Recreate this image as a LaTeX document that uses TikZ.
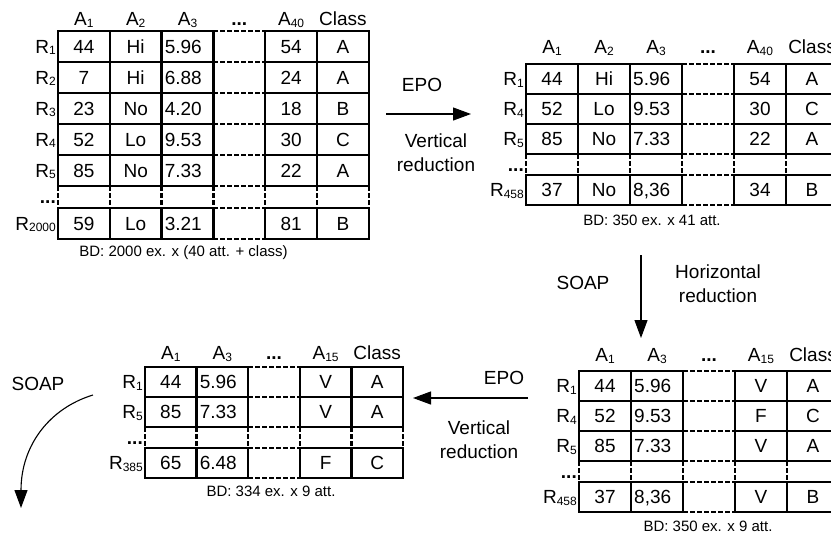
\documentclass[tikz,border=0pt]{standalone}
\usepackage{fontspec}
\setmainfont{Liberation Sans}
\usepackage{tikz}
\usetikzlibrary{arrows.meta, positioning}

\newcommand{\lowidx}[1]{\raisebox{-1.5pt}{\fontsize{12}{12}\selectfont #1}}
\newcommand{\Rlab}[1]{R\lowidx{#1}}
\newcommand{\Alab}[1]{A\lowidx{#1}}
\newcommand{\dotcell}{\textbf{...}}

\tikzset{
  tabline/.style={line width=2.3pt},
  tabdash/.style={line width=2.3pt, dash pattern=on 4.5pt off 2.5pt},
  txt/.style={inner sep=0pt, font=\fontsize{19}{22}\selectfont, text height=13.6pt, text depth=0pt},
  cell/.style={txt},
  lcell/.style={txt, anchor=west},
  rlab/.style={txt, anchor=east},
  capt/.style={inner sep=0pt, font=\fontsize{15}{18}\selectfont},
  note/.style={inner sep=0pt, font=\fontsize{19}{24}\selectfont, align=center},
  flow/.style={line width=1.1pt, -{Triangle[length=18pt,width=13pt]}},
}

\begin{document}
\begin{tikzpicture}[x=1pt, y=-1pt]
  \useasboundingbox (0,0) rectangle (831,542);
  \clip (0,0) rectangle (831,542);

  % Original database (top left)
  \begin{scope}[shift={(58,31)}]
    \foreach \yy in {0,31,62,93,124,177}
      \foreach \c in {0,1,2,4,5}
        \draw[tabline] (\c*51.8,\yy) rectangle ++(51.8,31);
    \foreach \yy in {0,31,62,93,124,155,177,208}
      \draw[tabdash] (3*51.8,\yy) -- ++(51.8,0);
    \foreach \c in {0,...,6}
      \draw[tabdash] (\c*51.8,155) -- ++(0,22);
    \foreach \t [count=\c from 0] in {\Alab{1},\Alab{2},\Alab{3},\dotcell,\Alab{40},Class}
      \node[cell] (tlh\c) at (\c*51.8+25.9,-12) {\t};
    \foreach \yy/\k/\va/\vb/\vc/\vd/\ve in {15.5/1/44/Hi/5.96/54/A, 46.5/2/7/Hi/6.88/24/A,
        77.5/3/23/No/4.20/18/B, 108.5/4/52/Lo/9.53/30/C, 139.5/5/85/No/7.33/22/A,
        192.5/2000/59/Lo/3.21/81/B} {
      \node[rlab] (tlr\k) at (-2,\yy) {\Rlab{\k}};
      \node[cell] (tl\k-a) at (25.9,\yy) {\va};
      \node[cell] (tl\k-b) at (77.7,\yy) {\vb};
      \node[lcell] (tl\k-c) at (106.6,\yy) {\vc};
      \node[cell] (tl\k-d) at (233.1,\yy) {\vd};
      \node[cell] (tl\k-e) at (284.9,\yy) {\ve};
    }
    \node[rlab] (tldots) at (-2,166) {\dotcell};
    \node[capt] (tlcap) at (125.5,222) {BD: 2000 ex. x (40 att. + class)};
  \end{scope}

  % After EPO (top right)
  \begin{scope}[shift={(526,64)}]
    \foreach \yy in {0,30,60,111}
      \foreach \c in {0,1,2,4,5}
        \draw[tabline] (\c*52,\yy) rectangle ++(52,30);
    \foreach \yy in {0,30,60,90,111,141}
      \draw[tabdash] (3*52,\yy) -- ++(52,0);
    \foreach \c in {0,...,6}
      \draw[tabdash] (\c*52,90) -- ++(0,21);
    \foreach \t [count=\c from 0] in {\Alab{1},\Alab{2},\Alab{3},\dotcell,\Alab{40},Class}
      \node[cell] (trh\c) at (\c*52+26,-17) {\t};
    \foreach \yy/\k/\va/\vb/\vc/\vd/\ve in {15/1/44/Hi/5.96/54/A, 45/4/52/Lo/9.53/30/C,
        75/5/85/No/7.33/22/A, 126/458/37/No/{8,36}/34/B} {
      \node[rlab] (trr\k) at (-2,\yy) {\Rlab{\k}};
      \node[cell] (tr\k-a) at (26,\yy) {\va};
      \node[cell] (tr\k-b) at (78,\yy) {\vb};
      \node[lcell] (tr\k-c) at (107,\yy) {\vc};
      \node[cell] (tr\k-d) at (234,\yy) {\vd};
      \node[cell] (tr\k-e) at (286,\yy) {\ve};
    }
    \node[rlab] (trdots) at (-2,100.5) {\dotcell};
    \node[capt] (trcap) at (126,156) {BD: 350 ex. x 41 att.};
  \end{scope}

  % After SOAP (bottom right)
  \begin{scope}[shift={(579,371)}]
    \foreach \yy in {0,30,60,111}
      \foreach \c in {0,1,3,4}
        \draw[tabline] (\c*52,\yy) rectangle ++(52,30);
    \foreach \yy in {0,30,60,90,111,141}
      \draw[tabdash] (2*52,\yy) -- ++(52,0);
    \foreach \c in {0,...,5}
      \draw[tabdash] (\c*52,90) -- ++(0,21);
    \foreach \t [count=\c from 0] in {\Alab{1},\Alab{3},\dotcell,\Alab{15},Class}
      \node[cell] (brh\c) at (\c*52+26,-16) {\t};
    \foreach \yy/\k/\va/\vc/\vd/\ve in {15/1/44/5.96/V/A, 45/4/52/9.53/F/C,
        75/5/85/7.33/V/A, 126/458/37/{8,36}/V/B} {
      \node[rlab] (brr\k) at (-2,\yy) {\Rlab{\k}};
      \node[cell] (br\k-a) at (26,\yy) {\va};
      \node[lcell] (br\k-c) at (55,\yy) {\vc};
      \node[cell] (br\k-d) at (182,\yy) {\vd};
      \node[cell] (br\k-e) at (234,\yy) {\ve};
    }
    \node[rlab] (brdots) at (-2,100.5) {\dotcell};
    \node[capt] (brcap) at (129,155) {BD: 350 ex. x 9 att.};
  \end{scope}

  % After EPO again (bottom left)
  \begin{scope}[shift={(145,367)}]
    \foreach \yy in {0,30,81}
      \foreach \c in {0,1,3,4}
        \draw[tabline] (\c*51.6,\yy) rectangle ++(51.6,30);
    \foreach \yy in {0,30,60,81,111}
      \draw[tabdash] (2*51.6,\yy) -- ++(51.6,0);
    \foreach \c in {0,...,5}
      \draw[tabdash] (\c*51.6,60) -- ++(0,21);
    \foreach \t [count=\c from 0] in {\Alab{1},\Alab{3},\dotcell,\Alab{15},Class}
      \node[cell] (blh\c) at (\c*51.6+25.8,-14) {\t};
    \foreach \yy/\k/\va/\vc/\vd/\ve in {15/1/44/5.96/V/A, 45/5/85/7.33/V/A,
        96/385/65/6.48/F/C} {
      \node[rlab] (blr\k) at (-2,\yy) {\Rlab{\k}};
      \node[cell] (bl\k-a) at (25.8,\yy) {\va};
      \node[lcell] (bl\k-c) at (54.6,\yy) {\vc};
      \node[cell] (bl\k-d) at (180.6,\yy) {\vd};
      \node[cell] (bl\k-e) at (232.2,\yy) {\ve};
    }
    \node[rlab] (bldots) at (-2,70.5) {\dotcell};
    \node[capt] (blcap) at (126,124) {BD: 334 ex. x 9 att.};
  \end{scope}

  % arrows between steps
  \coordinate (epo1s) at (386,114);
  \coordinate (epo1e) at (471,114);
  \draw[flow] (epo1s) -- (epo1e);
  \node[note] (epo1) at (422,85) {EPO};
  \node[note] (vert1) at (436,153) {Vertical\\reduction};

  \coordinate (soap1s) at (641,255);
  \coordinate (soap1e) at (641,338);
  \draw[flow] (soap1s) -- (soap1e);
  \node[note] (soap1) at (583,283) {SOAP};
  \node[note] (hor1) at (718,284) {Horizontal\\reduction};

  \coordinate (epo2s) at (528,398);
  \coordinate (epo2e) at (413,398);
  \draw[flow] (epo2s) -- (epo2e);
  \node[note] (epo2) at (504,378) {EPO};
  \node[note] (vert2) at (479,440) {Vertical\\reduction};

  \coordinate (soap2s) at (93,395);
  \coordinate (soap2e) at (21,508);
  \draw[flow] (soap2s) .. controls (50,408) and (21,445) .. (soap2e);
  \node[note] (soap2) at (38,384) {SOAP};
\end{tikzpicture}
\end{document}
